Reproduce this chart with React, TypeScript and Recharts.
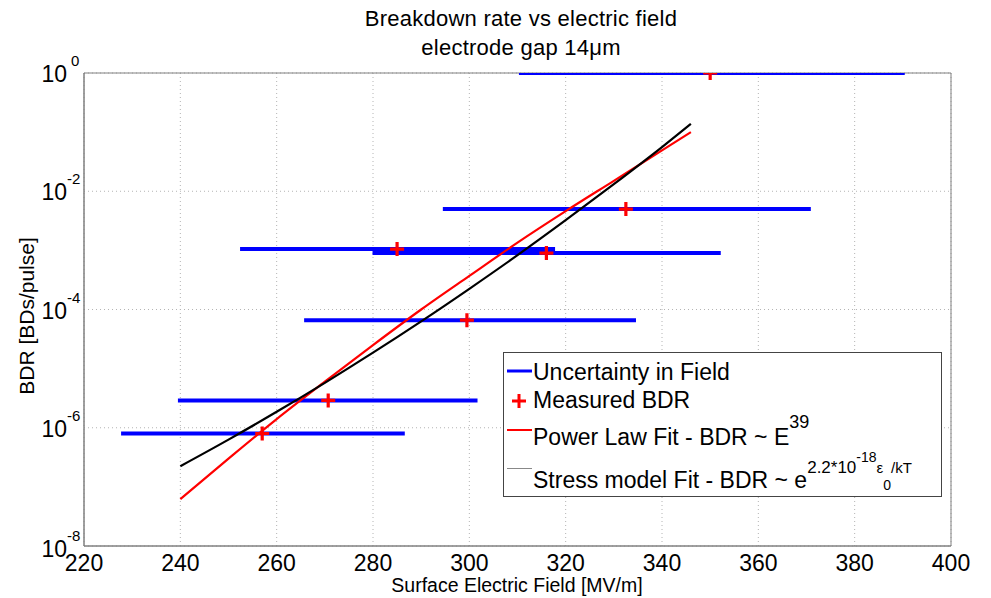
import {
  CartesianGrid,
  ComposedChart,
  Line,
  ReferenceArea,
  Scatter,
  XAxis,
  YAxis,
} from "recharts";

const FONT = '"Liberation Sans", Arial, Helvetica, sans-serif';

// measured breakdown rate, one entry per run
const measuredField = [257, 270.7, 299.5, 285, 316, 332.5, 350];
const measuredBdr = [8.0e-7, 2.9e-6, 6.6e-5, 1.05e-3, 9.0e-4, 5.0e-3, 1.0];
// field uncertainty range of each run
const fieldLow = [227.7, 239.5, 265.7, 252.4, 279.9, 294.5, 310.3];
const fieldHigh = [286.6, 301.7, 334.6, 317.8, 352.2, 370.9, 390.4];

// fits
const fitField = [240, 250, 260, 270, 280, 290, 300, 310, 320, 330, 340, 346];
const powerLawBdr = [6.2e-8, 3.0e-7, 1.4e-6, 6.0e-6, 2.5e-5, 1.0e-4, 3.7e-4, 1.35e-3, 4.6e-3, 1.5e-2, 4.9e-2, 1.0e-1];
const stressBdr = [2.24e-7, 6.3e-7, 1.86e-6, 5.75e-6, 1.86e-5, 6.3e-5, 2.24e-4, 8.3e-4, 3.24e-3, 1.32e-2, 5.6e-2, 1.38e-1];

const xTicks = [220, 240, 260, 280, 300, 320, 340, 360, 380, 400];
const yTicks = [1e-8, 1e-6, 1e-4, 1e-2, 1];

const measured = measuredField.map((x, i) => ({ x, y: measuredBdr[i] }));
const powerLaw = fitField.map((x, i) => ({ x, y: powerLawBdr[i] }));
const stress = fitField.map((x, i) => ({ x, y: stressBdr[i] }));
const ranges = fieldLow.map((lo, i) => [
  { x: lo, y: measuredBdr[i] },
  { x: fieldHigh[i], y: measuredBdr[i] },
]);

function XTick({ x, payload }: any) {
  return (
    <text x={x} y={571} textAnchor="middle" fontSize={23} fontFamily={FONT} fill="#000">
      {payload.value}
    </text>
  );
}

function YTick({ y, payload }: any) {
  const e = Math.round(Math.log10(payload.value));
  const dy = e === -8 ? 2 : 0;
  return (
    <g fontFamily={FONT} fill="#000">
      <text x={67} y={y + 9 + dy} textAnchor="end" fontSize={23}>
        10
      </text>
      <text x={e === 0 ? 71 : 67} y={y - 7 + dy} fontSize={15}>
        {e}
      </text>
    </g>
  );
}

function PlusMark({ cx, cy }: any) {
  return <path d={`M${cx - 7},${cy}H${cx + 7}M${cx},${cy - 7}V${cy + 7}`} stroke="#ff0000" strokeWidth={3.2} fill="none" />;
}

// titles, axis labels and legend box drawn over the chart
function Overlay() {
  return (
    <svg
      width={991}
      height={598}
      style={{ position: "absolute", left: 0, top: 0, pointerEvents: "none" }}
      fontFamily={FONT}
    >
      <text x={521} y={26} textAnchor="middle" fontSize={22} letterSpacing={0.25}>
        Breakdown rate vs electric field
      </text>
      <text x={521} y={55} textAnchor="middle" fontSize={22} letterSpacing={0.25}>
        electrode gap 14μm
      </text>
      <text x={517} y={592} textAnchor="middle" fontSize={19.5}>
        Surface Electric Field [MV/m]
      </text>
      <text x={34} y={316} textAnchor="middle" fontSize={21} transform="rotate(-90 34 316)">
        BDR [BDs/pulse]
      </text>

      <rect x={503.5} y={352.5} width={438} height={144} fill="#fff" stroke="#444" />
      <line x1={507} x2={532} y1={371} y2={371} stroke="#0000ff" strokeWidth={3} />
      <text x={533} y={380} fontSize={23}>Uncertainty in Field</text>

      <path d="M512,401H526M519,394V408" stroke="#ff0000" strokeWidth={3} />
      <text x={533} y={408} fontSize={23}>Measured BDR</text>

      <line x1={507} x2={532} y1={430} y2={430} stroke="#ff0000" strokeWidth={2} />
      <text x={533} y={445} fontSize={23}>
        Power Law Fit - BDR ~ E
        <tspan dy={-17} fontSize={18}>39</tspan>
      </text>

      <line x1={507} x2={532} y1={468.5} y2={468.5} stroke="#888" strokeWidth={1} />
      <text x={533} y={488} fontSize={23}>
        Stress model Fit - BDR ~ e
        <tspan dy={-15} fontSize={17}>2.2*10</tspan>
        <tspan dy={-11} fontSize={14}>-18</tspan>
        <tspan dy={11} fontSize={15}>ε</tspan>
        <tspan dy={17} fontSize={14}>0</tspan>
        <tspan dy={-17} fontSize={15}>/kT</tspan>
      </text>
    </svg>
  );
}

export default function App() {
  return (
    <div style={{ position: "absolute", left: 0, top: 0, width: 991, height: 598, background: "#fff" }}>
      <ComposedChart width={991} height={598} margin={{ top: 73, right: 40, bottom: 0, left: 0 }}>
        <CartesianGrid stroke="#b4b4b4" strokeDasharray="1 3" />
        <XAxis
          type="number"
          dataKey="x"
          domain={[220, 400]}
          ticks={xTicks}
          allowDataOverflow
          height={52}
          tick={<XTick />}
          tickLine={false}
          axisLine={{ stroke: "#808080" }}
        />
        <YAxis
          type="number"
          dataKey="y"
          scale="log"
          domain={[1e-8, 1]}
          ticks={yTicks}
          allowDataOverflow
          width={84}
          tick={<YTick />}
          tickLine={false}
          axisLine={{ stroke: "#808080" }}
        />
        <ReferenceArea x1={220} x2={400} y1={1e-8} y2={1} fill="none" stroke="#808080" strokeWidth={1} />
        {ranges.map((seg, i) => (
          <Line
            key={i}
            data={seg}
            dataKey="y"
            type="linear"
            stroke="#0000ff"
            strokeWidth={4}
            dot={false}
            activeDot={false}
            isAnimationActive={false}
          />
        ))}
        <Line data={powerLaw} dataKey="y" type="monotone" stroke="#ff0000" strokeWidth={2.2} dot={false} isAnimationActive={false} />
        <Line data={stress} dataKey="y" type="monotone" stroke="#000" strokeWidth={2.2} dot={false} isAnimationActive={false} />
        <Scatter data={measured} dataKey="y" shape={<PlusMark />} isAnimationActive={false} />
      </ComposedChart>
      <Overlay />
    </div>
  );
}
